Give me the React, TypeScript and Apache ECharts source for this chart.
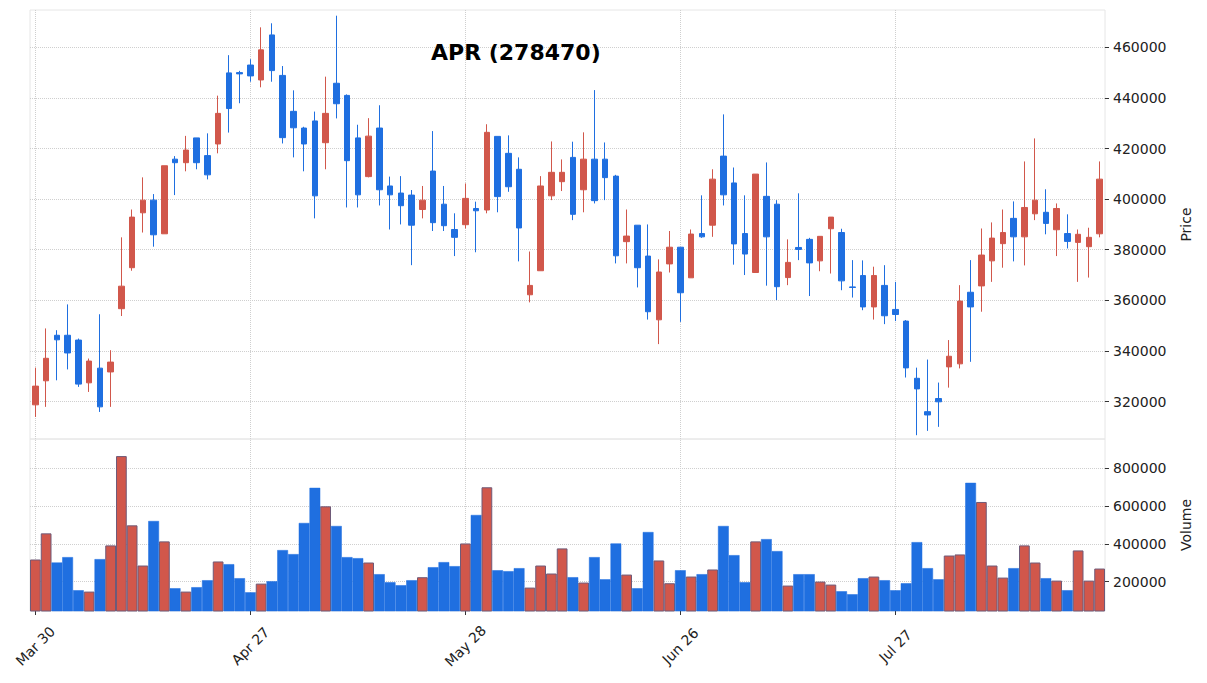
import React, { useEffect, useRef } from 'react';
import * as echarts from 'echarts';

// OHLC + volume
const opens = [
  318700, 328200, 346200, 346200, 344300, 327400, 333200, 331700, 356700, 372900,
  394600, 399600, 386300, 415800, 414400, 424200, 417200, 421800, 449900, 450000,
  453000, 447100, 464900, 448900, 434700, 428100, 430900, 422300, 445800, 441000,
  424200, 408900, 428100, 405200, 402400, 401600, 395900, 411100, 398000, 388000,
  389900, 396300, 395700, 424800, 418100, 411800, 362200, 371700, 401300, 406900,
  416500, 403700, 415800, 415800, 409100, 383200, 389700, 377500, 352300, 374400,
  381000, 368900, 386400, 389700, 417000, 406400, 386400, 371000, 401100, 398000,
  369000, 380900, 384100, 375600, 388300, 386800, 365300, 369800, 357400, 365900,
  356400, 351800, 329200, 316000, 321200, 333700, 334900, 363200, 365700, 375600,
  382400, 392400, 385100, 394200, 394800, 387900, 386400, 382900, 381200, 386300,
];
const closes = [
  326100, 337100, 344400, 339200, 326900, 336000, 317900, 335600, 365600, 392900,
  399600, 385900, 413200, 414400, 419400, 414400, 409600, 433900, 435800, 449500,
  448700, 459000, 450800, 424300, 428200, 421800, 401300, 433900, 437700, 415200,
  401700, 424900, 403700, 401700, 397400, 389700, 399600, 390700, 389500, 384900,
  400300, 395400, 426400, 401000, 404900, 388600, 365900, 405200, 410600, 410600,
  394000, 415800, 399400, 408500, 377600, 385400, 372900, 355500, 371200, 381000,
  363000, 386200, 385100, 407900, 401700, 382300, 378300, 409900, 385100, 365400,
  375000, 380100, 374800, 385300, 392900, 367700, 365100, 357400, 369800, 353900,
  354400, 333300, 325000, 314700, 319900, 337900, 359700, 357400, 377900, 384600,
  386800, 385100, 396700, 399600, 390400, 396300, 383300, 386100, 384900, 407900,
];
const lows = [
  313900, 317900, 328400, 332700, 325800, 323800, 315900, 317900, 353800, 371700,
  386800, 381200, 386300, 401600, 411000, 411800, 407800, 418100, 426300, 437900,
  446400, 444200, 446400, 422000, 416500, 411000, 392400, 411800, 431900, 396700,
  396700, 408600, 397500, 388000, 390000, 373900, 392400, 387400, 387400, 377500,
  388400, 379000, 394400, 394800, 402900, 375400, 359200, 371700, 399600, 403200,
  391700, 394800, 398300, 399600, 374600, 374600, 365100, 352400, 342700, 371000,
  351500, 368900, 384700, 385100, 397500, 374100, 370000, 371000, 365800, 360100,
  366000, 375900, 361700, 371500, 370600, 364000, 361100, 356100, 352400, 350600,
  351800, 329500, 306700, 308400, 310000, 325500, 333100, 335700, 355500, 367300,
  372900, 375400, 373800, 391700, 386100, 377500, 380500, 367300, 369000, 384900,
];
const highs = [
  333400, 348900, 348200, 358400, 344900, 337000, 354500, 340300, 384900, 395900,
  408600, 402000, 413200, 417000, 425000, 424200, 426000, 440900, 456900, 450700,
  455300, 467900, 469500, 452600, 443000, 428600, 434600, 448400, 472500, 441400,
  429400, 432000, 437100, 408900, 409100, 403600, 405200, 426900, 405200, 394400,
  406200, 399000, 429600, 424800, 425200, 416500, 379300, 409100, 422800, 415700,
  422700, 426400, 443100, 422400, 409600, 395900, 389700, 390000, 376200, 387400,
  381000, 388000, 401500, 411800, 433500, 412500, 401500, 409900, 414500, 399600,
  384100, 402300, 384700, 385300, 392900, 388300, 375900, 375800, 373300, 373900,
  367300, 352200, 333400, 336600, 327500, 344300, 366000, 375900, 388400, 390800,
  395900, 399100, 414900, 424000, 403900, 398300, 394000, 388000, 388700, 414900,
];
const volumes = [
  317000, 455600, 301000, 329500, 153900, 146800, 318900, 391700, 865500, 498000,
  285000, 521000, 413000, 164500, 146800, 170000, 207000, 306500, 292000, 217700,
  143000, 189000, 201800, 366800, 345500, 510600, 697000, 599000, 494600, 329500,
  324000, 301000, 239000, 196500, 180500, 207000, 223000, 276000, 303000, 281600,
  402000, 553000, 700000, 260000, 255000, 271000, 168000, 285000, 242600, 375700,
  223000, 194700, 329500, 212000, 402000, 237000, 164500, 462600, 311800, 191000,
  260000, 226600, 239000, 264000, 494600, 340000, 196500, 413000, 425000, 361500,
  178700, 239000, 239000, 200000, 184000, 148500, 132600, 217700, 226600, 207000,
  153900, 191000, 409000, 271000, 212000, 338000, 343700, 723500, 622000, 285000,
  221000, 271000, 391700, 301000, 217700, 205000, 154000, 365000, 205000, 269000,
];

const tickIndex = [0, 20, 40, 60, 80];
const tickLabels = ['Mar 30', 'Apr 27', 'May 28', 'Jun 26', 'Jul 27'];
const priceTicks = [320000, 340000, 360000, 380000, 400000, 420000, 440000, 460000];
const volumeTicks = [200000, 400000, 600000, 800000];

const UP = '#d1574b';
const DOWN = '#1f6fe0';
const FONT = 'DejaVu Sans';
const GRID_LINE = { type: 'dotted' as const, color: '#cfcfcf', width: 1 };

const App: React.FC = () => {
  const chartRef = useRef<HTMLDivElement>(null);

  useEffect(() => {
    if (!chartRef.current) return;
    const chart = echarts.init(chartRef.current, undefined, { renderer: 'svg' });

    const categories = opens.map((_, i) => String(i));
    const labelAt: Record<string, string> = {};
    tickIndex.forEach((idx, k) => {
      labelAt[String(idx)] = tickLabels[k];
    });
    const showTick = (index: number) => tickIndex.includes(index);

    const candles = opens.map((o, i) => [o, closes[i], lows[i], highs[i]]);
    const volumeBars = volumes.map((v, i) => {
      const up = closes[i] >= opens[i];
      return {
        value: v,
        itemStyle: {
          color: up ? UP : DOWN,
          borderColor: up ? '#6f5a78' : DOWN,
          borderWidth: up ? 1 : 0.5,
        },
      };
    });

    const vLines = (z: number) => ({
      silent: true,
      symbol: ['none', 'none'],
      label: { show: false },
      lineStyle: GRID_LINE,
      z,
      data: tickIndex.map((i) => ({ xAxis: String(i) })),
    });

    const yAxisBase = {
      position: 'right' as const,
      axisLine: { show: false },
      axisTick: { show: true, length: 4, lineStyle: { color: '#333' } },
      axisLabel: {
        color: '#222',
        fontFamily: FONT,
        fontSize: 14,
        margin: 8,
        formatter: (v: number) => String(v),
      },
      splitLine: { show: true, lineStyle: GRID_LINE },
      nameLocation: 'middle' as const,
      nameRotate: 90,
      nameGap: 74,
      nameTextStyle: { color: '#222', fontFamily: FONT, fontSize: 14 },
    };

    const option = {
      animation: false,
      backgroundColor: '#ffffff',
      title: {
        text: 'APR (278470)',
        left: 426,
        top: 36,
        textStyle: { fontFamily: FONT, fontSize: 22, fontWeight: 'bold', color: '#000' },
      },
      grid: [
        { left: 30, width: 1075, top: 10, height: 429, show: true, borderColor: '#e6e6e6', borderWidth: 1 },
        { left: 30, width: 1075, top: 439, height: 172, show: true, borderColor: '#e6e6e6', borderWidth: 1 },
      ],
      xAxis: [
        {
          type: 'category',
          gridIndex: 0,
          data: categories,
          boundaryGap: true,
          axisLine: { show: false },
          axisTick: { show: false },
          axisLabel: { show: false },
          splitLine: { show: false },
        },
        {
          type: 'category',
          gridIndex: 1,
          data: categories,
          boundaryGap: true,
          axisLine: { show: false },
          axisTick: {
            show: true,
            alignWithLabel: true,
            length: 4,
            interval: showTick,
            lineStyle: { color: '#333' },
          },
          axisLabel: {
            show: true,
            interval: showTick,
            rotate: 45,
            margin: 35,
            align: 'center',
            verticalAlign: 'middle',
            color: '#222',
            fontFamily: FONT,
            fontSize: 14,
            formatter: (v: string) => labelAt[v] ?? '',
          },
          splitLine: { show: false },
        },
      ],
      yAxis: [
        {
          ...yAxisBase,
          type: 'value',
          gridIndex: 0,
          name: 'Price',
          min: 305200,
          max: 474750,
          splitNumber: 8,
          minInterval: 20000,
          maxInterval: 20000,
          axisTick: { ...yAxisBase.axisTick, customValues: priceTicks },
          axisLabel: { ...yAxisBase.axisLabel, customValues: priceTicks },
        },
        {
          ...yAxisBase,
          type: 'value',
          gridIndex: 1,
          name: 'Volume',
          min: 43800,
          max: 956000,
          splitNumber: 4,
          minInterval: 200000,
          maxInterval: 200000,
          axisTick: { ...yAxisBase.axisTick, customValues: volumeTicks },
          axisLabel: { ...yAxisBase.axisLabel, customValues: volumeTicks },
        },
      ],
      series: [
        {
          type: 'candlestick',
          xAxisIndex: 0,
          yAxisIndex: 0,
          data: candles,
          barWidth: '54%',
          z: 3,
          itemStyle: {
            color: UP,
            color0: DOWN,
            borderColor: UP,
            borderColor0: DOWN,
            borderWidth: 1,
          },
          markLine: vLines(1),
        },
        {
          type: 'bar',
          xAxisIndex: 1,
          yAxisIndex: 1,
          data: volumeBars,
          barWidth: '100%',
          barCategoryGap: '0%',
          z: 3,
          markLine: vLines(1),
        },
      ],
    };

    chart.setOption(option);
    return () => {
      chart.dispose();
    };
  }, []);

  return (
    <div
      ref={chartRef}
      style={{ position: 'fixed', left: 0, top: 0, width: '1207px', height: '683px' }}
    />
  );
};

export default App;
